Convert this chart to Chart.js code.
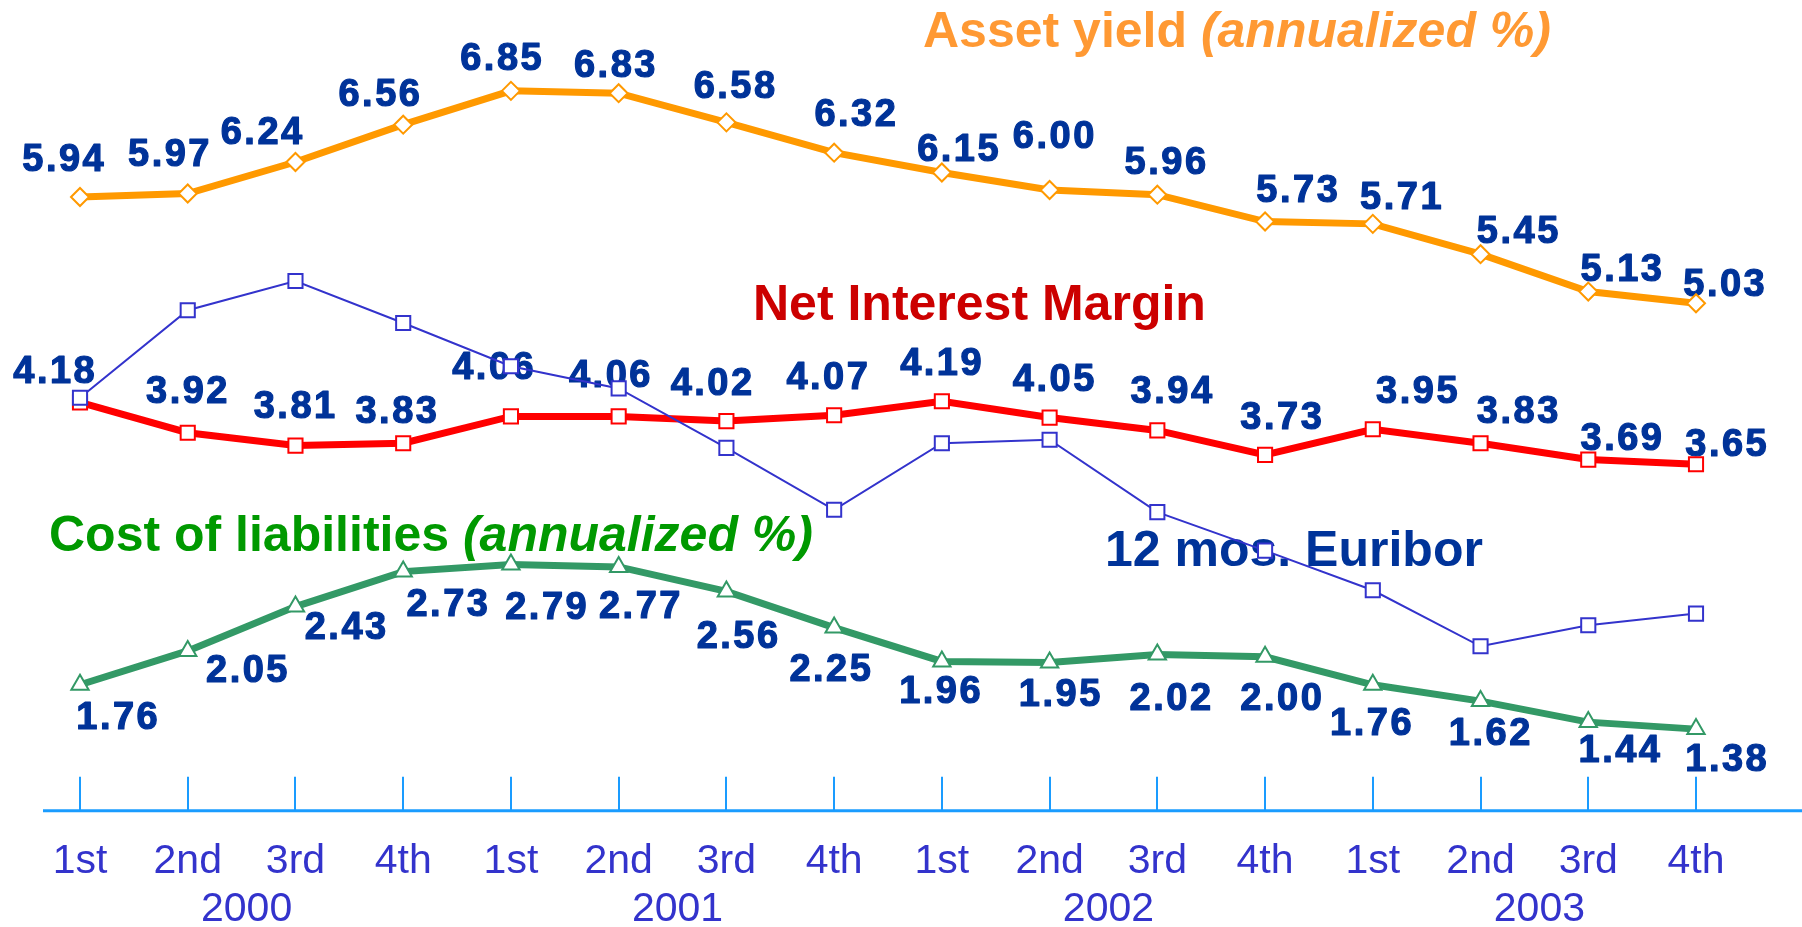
<!DOCTYPE html>
<html>
<head>
<meta charset="utf-8">
<script src="https://cdn.jsdelivr.net/npm/chart.js@4.4.1/dist/chart.umd.min.js"></script>
<style>
  html, body { margin: 0; padding: 0; background: #fff; }
  canvas { display: block; }
</style>
</head>
<body>
<canvas id="chart" width="1802" height="927"></canvas>
<script>
const quarters = ["1st", "2nd", "3rd", "4th", "1st", "2nd", "3rd", "4th",
                  "1st", "2nd", "3rd", "4th", "1st", "2nd", "3rd", "4th"];
const years = ["2000", "2001", "2002", "2003"];

const assetYield = [5.94, 5.97, 6.24, 6.56, 6.85, 6.83, 6.58, 6.32, 6.15, 6.00, 5.96, 5.73, 5.71, 5.45, 5.13, 5.03];
const netInterestMargin = [4.18, 3.92, 3.81, 3.83, 4.06, 4.06, 4.02, 4.07, 4.19, 4.05, 3.94, 3.73, 3.95, 3.83, 3.69, 3.65];
const costOfLiabilities = [1.76, 2.05, 2.43, 2.73, 2.79, 2.77, 2.56, 2.25, 1.96, 1.95, 2.02, 2.00, 1.76, 1.62, 1.44, 1.38];
const euribor12m = [4.22, 4.97, 5.22, 4.86, 4.49, 4.30, 3.79, 3.26, 3.83, 3.86, 3.24, 2.91, 2.57, 2.09, 2.27, 2.37];

// where each value label sits relative to its point (px), as placed on the slide
const assetNudge = [[-17, -37], [-19, -38], [-34, -29], [-24, -29], [-10, -31], [-4, -27], [8, -35], [21, -37],
                    [16, -22], [4, -53], [8, -31], [32, -30], [28, -25], [37, -22], [33, -21], [28, -18]];
const marginNudge = [[-26, -30], [-1, -40], [-1, -38], [-7, -31], [-18, -48], [-9, -40], [-15, -37], [-7, -37],
                     [-1, -37], [4, -37], [14, -38], [16, -36], [44, -37], [37, -31], [33, -20], [30, -19]];
const costNudge = [[37, 34], [59, 21], [50, 22], [44, 34], [35, 44], [21, 41], [11, 46], [-4, 43],
                   [-2, 31], [10, 33], [13, 45], [16, 43], [-2, 40], [9, 33], [31, 29], [30, 31]];

const FONT = '"Liberation Sans", Arial, sans-serif';
const LABEL_BLUE = "#003399";
const AXIS_BLUE = "#1a9cff";
const TICK_TEXT = "#3333cc";

const titles = [
  { text: "Asset yield ", italic: "(annualized %)", color: "#ff9933", x: 923, y: 47 },
  { text: "Net Interest Margin", italic: "", color: "#cc0000", x: 753, y: 320 },
  { text: "Cost of liabilities ", italic: "(annualized %)", color: "#009900", x: 49, y: 551 },
  { text: "12 mos. Euribor", italic: "", color: "#003399", x: 1105, y: 566 },
];

const slideDecor = {
  id: "slideDecor",
  beforeDatasetsDraw(chart) {
    const ctx = chart.ctx;
    ctx.save();
    ctx.textBaseline = "alphabetic";
    ctx.textAlign = "left";
    titles.forEach((t) => {
      ctx.fillStyle = t.color;
      ctx.font = `bold 50px ${FONT}`;
      ctx.fillText(t.text, t.x, t.y);
      if (t.italic) {
        const w = ctx.measureText(t.text).width;
        ctx.font = `italic bold 50px ${FONT}`;
        ctx.fillText(t.italic, t.x + w, t.y);
      }
    });

    // value labels: a thin stroke thickens them like the slide's heavy bold
    ctx.font = `bold 38px ${FONT}`;
    ctx.letterSpacing = "2.5px";
    ctx.textAlign = "center";
    ctx.textBaseline = "middle";
    ctx.fillStyle = LABEL_BLUE;
    ctx.strokeStyle = LABEL_BLUE;
    ctx.lineWidth = 1.2;
    ctx.lineJoin = "round";
    [[1, assetNudge], [2, marginNudge], [3, costNudge]].forEach(([di, nudge]) => {
      const meta = chart.getDatasetMeta(di);
      const values = chart.data.datasets[di].data;
      meta.data.forEach((pt, i) => {
        const txt = values[i].toFixed(2);
        const x = pt.x + nudge[i][0] + 1.25;
        const y = pt.y + nudge[i][1];
        ctx.fillText(txt, x, y);
        ctx.strokeText(txt, x, y);
      });
    });
    ctx.restore();
  },
  afterDraw(chart) {
    const ctx = chart.ctx;
    const area = chart.chartArea;
    const xs = chart.scales.x;
    ctx.save();
    ctx.strokeStyle = AXIS_BLUE;
    ctx.lineWidth = 3;
    ctx.beginPath();
    ctx.moveTo(43, area.bottom);
    ctx.lineTo(chart.width, area.bottom);
    ctx.stroke();
    ctx.lineWidth = 2;
    quarters.forEach((q, i) => {
      const x = Math.round(xs.getPixelForTick(i));
      ctx.beginPath();
      ctx.moveTo(x, area.bottom);
      ctx.lineTo(x, area.bottom - 34);
      ctx.stroke();
    });
    ctx.fillStyle = TICK_TEXT;
    ctx.font = `41px ${FONT}`;
    ctx.textAlign = "center";
    ctx.textBaseline = "middle";
    years.forEach((yr, k) => {
      const x = (xs.getPixelForTick(k * 4 + 1) + xs.getPixelForTick(k * 4 + 2)) / 2 + 5;
      ctx.fillText(yr, x, 910);
    });
    ctx.restore();
  },
};

new Chart(document.getElementById("chart"), {
  type: "line",
  data: {
    labels: quarters,
    datasets: [
      {
        label: "12 mos. Euribor",
        data: euribor12m,
        borderColor: "#3333cc",
        borderWidth: 2,
        pointStyle: "rect",
        pointRadius: 10,
        pointBorderWidth: 2,
        pointBorderColor: "#3333cc",
        pointBackgroundColor: "#ffffff",
        tension: 0,
      },
      {
        label: "Asset yield",
        data: assetYield,
        borderColor: "#ff9900",
        borderWidth: 7,
        pointStyle: "rectRot",
        pointRadius: 9,
        pointBorderWidth: 2,
        pointBorderColor: "#ff9900",
        pointBackgroundColor: "#ffffff",
        tension: 0,
      },
      {
        label: "Net Interest Margin",
        data: netInterestMargin,
        borderColor: "#ff0000",
        borderWidth: 7,
        pointStyle: "rect",
        pointRadius: 10,
        pointBorderWidth: 2,
        pointBorderColor: "#ff0000",
        pointBackgroundColor: "#ffffff",
        tension: 0,
      },
      {
        label: "Cost of liabilities",
        data: costOfLiabilities,
        borderColor: "#339966",
        borderWidth: 7,
        pointStyle: "triangle",
        pointRadius: 10,
        pointBorderWidth: 2,
        pointBorderColor: "#339966",
        pointBackgroundColor: "#ffffff",
        tension: 0,
      },
    ],
  },
  options: {
    responsive: false,
    animation: false,
    layout: {
      padding: { top: 15, bottom: 14, left: 80, right: 106 },
    },
    plugins: {
      legend: { display: false },
      tooltip: { enabled: false },
    },
    scales: {
      x: {
        offset: false,
        grid: { display: false, drawTicks: false },
        border: { display: false },
        ticks: {
          autoSkip: false,
          maxRotation: 0,
          padding: 26.5,
          color: TICK_TEXT,
          font: { family: FONT, size: 41 },
        },
      },
      y: {
        display: false,
        min: 0.68,
        max: 7.5,
      },
    },
  },
  plugins: [slideDecor],
});
</script>
</body>
</html>
